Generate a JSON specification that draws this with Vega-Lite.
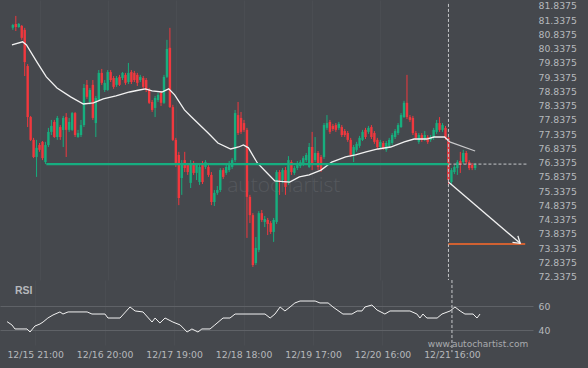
{
  "$schema": "https://vega.github.io/schema/vega-lite/v6.json",
  "background": "#45484d",
  "padding": 0,
  "spacing": 0,
  "bounds": "flush",
  "resolve": {"scale": {"x": "independent", "y": "independent"}},
  "config": {
    "view": {"stroke": null},
    "axis": {"domain": false, "ticks": false, "labelFont": "DejaVu Sans", "labelFontSize": 9.3, "labelColor": "#b6b8bc", "labelOverlap": false}
  },
  "datasets": {
    "candles": [
{"i":0,"o":81.07,"h":81.21,"l":81.00,"c":81.17},
{"i":1,"o":81.21,"h":81.49,"l":80.96,"c":81.10},
{"i":2,"o":81.10,"h":81.24,"l":81.07,"c":81.21},
{"i":3,"o":81.14,"h":81.17,"l":80.65,"c":80.72},
{"i":4,"o":81.00,"h":81.07,"l":79.38,"c":79.87},
{"i":5,"o":79.73,"h":79.80,"l":77.59,"c":77.94},
{"i":6,"o":77.94,"h":77.98,"l":77.10,"c":77.14},
{"i":7,"o":77.14,"h":77.21,"l":76.50,"c":76.54},
{"i":8,"o":76.54,"h":77.14,"l":75.84,"c":76.86},
{"i":9,"o":76.96,"h":77.03,"l":76.72,"c":76.79},
{"i":10,"o":77.07,"h":77.10,"l":76.43,"c":76.50},
{"i":11,"o":76.36,"h":77.07,"l":76.29,"c":76.96},
{"i":12,"o":76.96,"h":77.56,"l":76.89,"c":77.42},
{"i":13,"o":77.42,"h":77.84,"l":77.31,"c":77.63},
{"i":14,"o":77.77,"h":77.84,"l":77.21,"c":77.24},
{"i":15,"o":77.24,"h":77.98,"l":77.14,"c":77.91},
{"i":16,"o":77.59,"h":77.66,"l":77.14,"c":77.24},
{"i":17,"o":77.49,"h":77.98,"l":76.89,"c":77.91},
{"i":18,"o":77.94,"h":78.08,"l":76.54,"c":77.49},
{"i":19,"o":77.49,"h":77.91,"l":77.42,"c":77.77},
{"i":20,"o":77.49,"h":78.12,"l":77.45,"c":78.08},
{"i":21,"o":78.08,"h":78.12,"l":77.24,"c":77.31},
{"i":22,"o":77.24,"h":77.49,"l":77.21,"c":77.38},
{"i":23,"o":77.31,"h":77.84,"l":77.24,"c":77.66},
{"i":24,"o":77.66,"h":79.10,"l":77.59,"c":78.96},
{"i":25,"o":79.07,"h":79.24,"l":78.58,"c":78.65},
{"i":26,"o":78.47,"h":78.96,"l":78.37,"c":78.89},
{"i":27,"o":79.07,"h":79.24,"l":77.84,"c":77.91},
{"i":28,"o":77.73,"h":78.68,"l":77.24,"c":78.61},
{"i":29,"o":78.54,"h":79.59,"l":78.51,"c":79.49},
{"i":30,"o":79.49,"h":79.63,"l":79.07,"c":79.14},
{"i":31,"o":78.89,"h":79.24,"l":78.82,"c":79.14},
{"i":32,"o":78.89,"h":79.59,"l":78.86,"c":79.52},
{"i":33,"o":79.52,"h":79.59,"l":79.17,"c":79.24},
{"i":34,"o":79.31,"h":79.38,"l":78.93,"c":79.00},
{"i":35,"o":79.07,"h":79.38,"l":79.00,"c":79.31},
{"i":36,"o":79.35,"h":79.42,"l":79.03,"c":79.07},
{"i":37,"o":79.31,"h":79.52,"l":79.24,"c":79.49},
{"i":38,"o":79.42,"h":79.49,"l":79.07,"c":79.14},
{"i":39,"o":79.17,"h":79.84,"l":79.10,"c":79.49},
{"i":40,"o":79.52,"h":79.59,"l":79.10,"c":79.17},
{"i":41,"o":79.49,"h":79.56,"l":79.17,"c":79.24},
{"i":42,"o":79.42,"h":79.49,"l":79.03,"c":79.14},
{"i":43,"o":79.24,"h":79.42,"l":79.17,"c":79.35},
{"i":44,"o":79.31,"h":79.38,"l":78.93,"c":79.00},
{"i":45,"o":79.24,"h":79.31,"l":78.82,"c":78.89},
{"i":46,"o":78.89,"h":78.96,"l":78.40,"c":78.44},
{"i":47,"o":78.47,"h":78.54,"l":78.12,"c":78.19},
{"i":48,"o":78.26,"h":78.68,"l":77.94,"c":78.61},
{"i":49,"o":78.54,"h":78.79,"l":78.47,"c":78.72},
{"i":50,"o":78.79,"h":78.86,"l":78.33,"c":78.44},
{"i":51,"o":78.44,"h":79.42,"l":78.40,"c":79.35},
{"i":52,"o":79.35,"h":80.65,"l":79.31,"c":80.33},
{"i":53,"o":80.37,"h":81.07,"l":78.26,"c":78.29},
{"i":54,"o":78.29,"h":78.37,"l":77.10,"c":77.14},
{"i":55,"o":77.14,"h":77.21,"l":76.19,"c":76.33},
{"i":56,"o":76.61,"h":76.72,"l":74.85,"c":75.10},
{"i":57,"o":75.80,"h":76.43,"l":75.21,"c":76.33},
{"i":58,"o":76.43,"h":76.72,"l":76.01,"c":76.15},
{"i":59,"o":76.26,"h":76.33,"l":75.91,"c":76.01},
{"i":60,"o":75.63,"h":76.43,"l":75.45,"c":76.33},
{"i":61,"o":76.33,"h":76.40,"l":75.91,"c":75.98},
{"i":62,"o":75.98,"h":76.33,"l":75.73,"c":76.26},
{"i":63,"o":75.66,"h":76.26,"l":75.56,"c":76.19},
{"i":64,"o":76.33,"h":76.40,"l":75.59,"c":75.66},
{"i":65,"o":76.19,"h":76.43,"l":76.12,"c":76.36},
{"i":66,"o":76.19,"h":76.26,"l":75.84,"c":75.91},
{"i":67,"o":75.91,"h":76.01,"l":74.85,"c":74.96},
{"i":68,"o":74.96,"h":75.38,"l":74.82,"c":75.28},
{"i":69,"o":75.28,"h":75.52,"l":75.21,"c":75.38},
{"i":70,"o":75.38,"h":76.15,"l":75.31,"c":76.08},
{"i":71,"o":76.08,"h":76.15,"l":75.77,"c":75.84},
{"i":72,"o":75.98,"h":76.26,"l":75.91,"c":76.19},
{"i":73,"o":76.08,"h":76.40,"l":76.01,"c":76.33},
{"i":74,"o":76.19,"h":76.50,"l":76.12,"c":76.43},
{"i":75,"o":76.43,"h":78.19,"l":76.36,"c":78.08},
{"i":76,"o":78.01,"h":78.47,"l":77.31,"c":77.38},
{"i":77,"o":77.91,"h":78.12,"l":77.35,"c":77.42},
{"i":78,"o":77.73,"h":77.84,"l":77.42,"c":77.49},
{"i":79,"o":77.49,"h":77.56,"l":73.70,"c":75.14},
{"i":80,"o":75.14,"h":75.21,"l":74.22,"c":74.50},
{"i":81,"o":74.50,"h":74.57,"l":72.68,"c":72.75},
{"i":82,"o":72.82,"h":73.73,"l":72.75,"c":73.35},
{"i":83,"o":73.28,"h":74.64,"l":73.20,"c":74.57},
{"i":84,"o":74.57,"h":74.68,"l":74.26,"c":74.33},
{"i":85,"o":74.26,"h":74.47,"l":74.08,"c":74.36},
{"i":86,"o":74.33,"h":74.40,"l":73.80,"c":74.19},
{"i":87,"o":74.22,"h":74.29,"l":73.84,"c":73.91},
{"i":88,"o":73.91,"h":74.40,"l":73.56,"c":74.33},
{"i":89,"o":74.26,"h":76.08,"l":74.19,"c":76.01},
{"i":90,"o":76.01,"h":76.08,"l":75.21,"c":75.73},
{"i":91,"o":75.73,"h":76.15,"l":75.63,"c":76.08},
{"i":92,"o":76.08,"h":76.19,"l":75.21,"c":75.49},
{"i":93,"o":75.66,"h":76.57,"l":75.56,"c":76.43},
{"i":94,"o":76.36,"h":76.43,"l":75.91,"c":76.01},
{"i":95,"o":75.98,"h":76.22,"l":75.91,"c":76.15},
{"i":96,"o":76.15,"h":76.40,"l":76.08,"c":76.33},
{"i":97,"o":76.22,"h":76.43,"l":76.15,"c":76.36},
{"i":98,"o":76.33,"h":76.57,"l":76.22,"c":76.50},
{"i":99,"o":76.43,"h":76.68,"l":76.36,"c":76.61},
{"i":100,"o":76.19,"h":77.03,"l":76.15,"c":76.89},
{"i":101,"o":76.89,"h":77.42,"l":76.08,"c":76.33},
{"i":102,"o":76.43,"h":77.24,"l":76.36,"c":76.68},
{"i":103,"o":76.68,"h":76.75,"l":76.08,"c":76.19},
{"i":104,"o":76.54,"h":76.61,"l":76.01,"c":76.08},
{"i":105,"o":76.54,"h":77.73,"l":76.47,"c":77.66},
{"i":106,"o":77.56,"h":78.01,"l":77.49,"c":77.73},
{"i":107,"o":77.77,"h":77.84,"l":77.35,"c":77.42},
{"i":108,"o":77.63,"h":77.70,"l":77.45,"c":77.52},
{"i":109,"o":77.66,"h":77.73,"l":77.42,"c":77.49},
{"i":110,"o":77.56,"h":77.77,"l":77.49,"c":77.70},
{"i":111,"o":77.59,"h":77.66,"l":77.24,"c":77.31},
{"i":112,"o":77.45,"h":77.52,"l":77.24,"c":77.31},
{"i":113,"o":77.38,"h":77.45,"l":77.07,"c":77.14},
{"i":114,"o":77.14,"h":77.21,"l":76.54,"c":76.61},
{"i":115,"o":76.61,"h":76.96,"l":76.36,"c":76.89},
{"i":116,"o":76.79,"h":77.07,"l":76.72,"c":77.00},
{"i":117,"o":76.93,"h":77.28,"l":76.86,"c":77.21},
{"i":118,"o":77.14,"h":77.49,"l":77.10,"c":77.42},
{"i":119,"o":77.49,"h":77.56,"l":77.17,"c":77.24},
{"i":120,"o":77.42,"h":77.63,"l":77.35,"c":77.56},
{"i":121,"o":77.59,"h":77.66,"l":77.17,"c":77.24},
{"i":122,"o":77.38,"h":77.45,"l":77.00,"c":77.07},
{"i":123,"o":77.14,"h":77.21,"l":76.82,"c":76.89},
{"i":124,"o":76.89,"h":77.14,"l":76.82,"c":77.07},
{"i":125,"o":77.03,"h":77.10,"l":76.79,"c":76.86},
{"i":126,"o":76.79,"h":77.10,"l":76.72,"c":77.03},
{"i":127,"o":76.93,"h":77.21,"l":76.86,"c":77.14},
{"i":128,"o":77.03,"h":77.38,"l":76.96,"c":77.31},
{"i":129,"o":77.24,"h":77.52,"l":77.17,"c":77.45},
{"i":130,"o":77.38,"h":77.73,"l":77.31,"c":77.66},
{"i":131,"o":77.59,"h":78.08,"l":77.56,"c":78.01},
{"i":132,"o":77.94,"h":78.51,"l":77.91,"c":78.44},
{"i":133,"o":78.44,"h":79.42,"l":77.87,"c":77.94},
{"i":134,"o":77.94,"h":78.01,"l":77.77,"c":77.84},
{"i":135,"o":77.91,"h":77.98,"l":77.31,"c":77.38},
{"i":136,"o":77.38,"h":77.45,"l":77.14,"c":77.21},
{"i":137,"o":77.07,"h":77.38,"l":77.00,"c":77.31},
{"i":138,"o":77.31,"h":77.38,"l":77.07,"c":77.14},
{"i":139,"o":77.17,"h":77.45,"l":77.10,"c":77.31},
{"i":140,"o":77.24,"h":77.31,"l":77.00,"c":77.07},
{"i":141,"o":77.14,"h":77.31,"l":77.07,"c":77.24},
{"i":142,"o":77.24,"h":77.56,"l":77.14,"c":77.49},
{"i":143,"o":77.42,"h":77.84,"l":77.35,"c":77.73},
{"i":144,"o":77.73,"h":77.94,"l":77.42,"c":77.49},
{"i":145,"o":77.49,"h":77.73,"l":77.42,"c":77.66},
{"i":146,"o":77.56,"h":77.63,"l":77.14,"c":77.21},
{"i":147,"o":77.21,"h":77.28,"l":75.56,"c":75.73},
{"i":148,"o":75.66,"h":76.15,"l":75.59,"c":76.08},
{"i":149,"o":76.01,"h":76.26,"l":75.94,"c":76.19},
{"i":150,"o":76.15,"h":76.43,"l":75.91,"c":76.36},
{"i":151,"o":76.40,"h":76.72,"l":75.98,"c":76.26},
{"i":152,"o":76.36,"h":76.79,"l":76.29,"c":76.68},
{"i":153,"o":76.68,"h":76.75,"l":76.29,"c":76.36},
{"i":154,"o":76.36,"h":76.43,"l":76.08,"c":76.15},
{"i":155,"o":76.26,"h":76.33,"l":76.08,"c":76.15},
{"i":156,"o":76.15,"h":76.33,"l":76.08,"c":76.26}
    ],
    "ma": [
{"i":-0.3,"p":80.47},{"i":3.3,"p":80.58},{"i":4.6,"p":80.47},{"i":8.3,"p":79.84},{"i":11.3,"p":79.35},{"i":14.9,"p":78.96},{"i":19.5,"p":78.65},{"i":23.8,"p":78.40},{"i":27.2,"p":78.44},{"i":30.5,"p":78.58},{"i":34.8,"p":78.68},{"i":39.4,"p":78.82},{"i":42.7,"p":78.89},{"i":44.7,"p":78.93},{"i":47.0,"p":78.86},{"i":50.3,"p":78.82},{"i":52.6,"p":78.93},{"i":54.6,"p":78.72},{"i":57.9,"p":78.19},{"i":60.3,"p":77.94},{"i":65.9,"p":77.38},{"i":69.2,"p":77.03},{"i":73.5,"p":76.82},{"i":76.2,"p":76.89},{"i":77.8,"p":76.96},{"i":79.5,"p":76.86},{"i":82.5,"p":76.33},{"i":85.8,"p":75.98},{"i":88.4,"p":75.70},{"i":93.4,"p":75.66},{"i":96.7,"p":75.84},{"i":100.0,"p":75.91},{"i":104.0,"p":76.08},{"i":107.6,"p":76.36},{"i":112.3,"p":76.54},{"i":115.6,"p":76.61},{"i":119.2,"p":76.72},{"i":123.2,"p":76.82},{"i":127.5,"p":76.89},{"i":132.1,"p":77.07},{"i":135.4,"p":77.17},{"i":139.7,"p":77.17},{"i":142.1,"p":77.24},{"i":145.7,"p":77.24},{"i":147.4,"p":77.07}
    ],
    "proj": [{"i":147.4,"p":77.07},{"i":156.0,"p":76.75}],
    "rsi": [
{"i":-0.3,"v":47.1},{"i":1.3,"v":44.4},{"i":2.3,"v":41.1},{"i":6.3,"v":41.1},{"i":7.3,"v":38.6},{"i":8.9,"v":43.5},{"i":10.6,"v":45.2},{"i":11.6,"v":46.8},{"i":13.2,"v":50.1},{"i":14.9,"v":52.6},{"i":17.2,"v":55.1},{"i":18.2,"v":53.4},{"i":19.9,"v":55.1},{"i":26.2,"v":55.1},{"i":27.8,"v":53.4},{"i":32.1,"v":53.4},{"i":33.1,"v":50.1},{"i":37.1,"v":50.1},{"i":40.4,"v":59.2},{"i":42.1,"v":55.9},{"i":44.7,"v":55.1},{"i":47.7,"v":46.8},{"i":48.7,"v":50.1},{"i":50.3,"v":46.0},{"i":52.0,"v":50.1},{"i":54.6,"v":46.8},{"i":57.0,"v":44.4},{"i":59.3,"v":38.6},{"i":60.9,"v":41.1},{"i":62.9,"v":38.6},{"i":64.2,"v":41.1},{"i":66.9,"v":41.1},{"i":68.5,"v":44.4},{"i":71.2,"v":50.1},{"i":73.5,"v":50.1},{"i":75.2,"v":53.4},{"i":85.1,"v":53.4},{"i":86.8,"v":50.1},{"i":88.4,"v":53.4},{"i":90.1,"v":59.2},{"i":91.7,"v":55.9},{"i":93.4,"v":59.2},{"i":95.0,"v":62.5},{"i":96.7,"v":64.1},{"i":101.7,"v":64.1},{"i":103.3,"v":62.5},{"i":106.0,"v":62.5},{"i":107.6,"v":59.2},{"i":110.9,"v":53.4},{"i":113.9,"v":53.4},{"i":115.6,"v":55.9},{"i":117.2,"v":55.9},{"i":118.2,"v":59.2},{"i":120.5,"v":60.8},{"i":122.2,"v":56.7},{"i":124.8,"v":53.4},{"i":126.5,"v":55.9},{"i":133.1,"v":55.9},{"i":135.4,"v":53.4},{"i":136.4,"v":50.1},{"i":137.4,"v":53.4},{"i":138.7,"v":50.1},{"i":142.1,"v":50.1},{"i":143.7,"v":53.4},{"i":146.4,"v":55.9},{"i":148.0,"v":59.2},{"i":149.7,"v":55.9},{"i":151.3,"v":53.4},{"i":154.0,"v":53.4},{"i":155.3,"v":50.1},{"i":156.3,"v":53.4}
    ],
    "support": [{"i":11.3,"i2":147,"p":76.29}],
    "current": [{"i":147,"i2":173.84,"p":76.29}],
    "target": [{"i":147,"i2":172.9,"p":73.49}],
    "arrow": [{"i":147,"p":75.66},{"i":171.2,"p":73.51}],
    "arrowhead": [{"i":171.2,"p":73.51}],
    "vline": [{"i":147,"p":81.91,"p2":72.223}],
    "vline2": [{"i":147,"v":81.4,"v2":22}],
    "mark": [{"i":91.4,"p":75.52,"t":"autochartist"}],
    "labels": [{"i":2.3,"v":72.6,"t":"RSI"}],
    "url": [{"i":172.3,"v":28.5,"t":"www.autochartist.com"}]
  },
  "vconcat": [
    {
      "width": 533,
      "height": 280,
      "encoding": {
        "x": {"field": "i", "type": "quantitative", "title": null,
          "scale": {"domain": [-2.649, 173.84], "nice": false, "zero": false},
          "axis": {"values": [9, 32, 55, 78, 101, 124, 147], "labels": false, "grid": true, "gridColor": "#4a4d52", "tickCount": 20, "minExtent": 0, "maxExtent": 0}}
      },
      "layer": [
        {
          "data": {"name": "mark"},
          "mark": {"type": "text", "fontSize": 21, "font": "Open Sans", "fontWeight": 300, "color": "#55585d", "baseline": "middle", "align": "center"},
          "encoding": {
            "y": {"field": "p", "type": "quantitative", "title": null, "scale": {"domain": [72.223, 82.048], "nice": false, "zero": false}},
            "text": {"field": "t"}
          }
        },
        {
          "data": {"name": "candles"},
          "mark": {"type": "rule", "strokeWidth": 1},
          "encoding": {
            "y": {"field": "l", "type": "quantitative", "title": null,
              "scale": {"domain": [72.223, 82.048], "nice": false, "zero": false},
              "axis": {"orient": "right", "values": [72.3375, 72.8375, 73.3375, 73.8375, 74.3375, 74.8375, 75.3375, 75.8375, 76.3375, 76.8375, 77.3375, 77.8375, 78.3375, 78.8375, 79.3375, 79.8375, 80.3375, 80.8375, 81.3375, 81.8375], "tickCount": 40, "format": ".4f", "grid": false, "labelOverlap": false, "labelSeparation": 0, "labelBound": false, "labelPadding": 5, "minExtent": 55, "maxExtent": 55}},
            "y2": {"field": "h"},
            "color": {"condition": {"test": "datum.c >= datum.o", "value": "#17ae7e"}, "value": "#f0383e"}
          }
        },
        {
          "data": {"name": "candles"},
          "mark": {"type": "bar", "size": 2.4},
          "encoding": {
            "y": {"field": "o", "type": "quantitative", "title": null, "scale": {"domain": [72.223, 82.048], "nice": false, "zero": false}},
            "y2": {"field": "c"},
            "color": {"condition": {"test": "datum.c >= datum.o", "value": "#17ae7e"}, "value": "#f0383e"}
          }
        },
        {
          "data": {"name": "ma"},
          "mark": {"type": "line", "color": "#f2f2f2", "strokeWidth": 1.3},
          "encoding": {
            "y": {"field": "p", "type": "quantitative", "title": null, "scale": {"domain": [72.223, 82.048], "nice": false, "zero": false}}
          }
        },
        {
          "data": {"name": "proj"},
          "mark": {"type": "line", "color": "#c9cacc", "strokeWidth": 1.2},
          "encoding": {
            "y": {"field": "p", "type": "quantitative", "title": null, "scale": {"domain": [72.223, 82.048], "nice": false, "zero": false}}
          }
        },
        {
          "data": {"name": "vline"},
          "mark": {"type": "rule", "color": "#c4c6c9", "strokeWidth": 1, "strokeDash": [3, 2]},
          "encoding": {
            "y": {"field": "p", "type": "quantitative", "title": null, "scale": {"domain": [72.223, 82.048], "nice": false, "zero": false}},
            "y2": {"field": "p2"}
          }
        },
        {
          "data": {"name": "current"},
          "mark": {"type": "rule", "color": "#c4c6c9", "strokeWidth": 1, "strokeDash": [3, 2]},
          "encoding": {
            "x2": {"field": "i2"},
            "y": {"field": "p", "type": "quantitative", "title": null, "scale": {"domain": [72.223, 82.048], "nice": false, "zero": false}}
          }
        },
        {
          "data": {"name": "support"},
          "mark": {"type": "rule", "color": "#16ad80", "strokeWidth": 2.2},
          "encoding": {
            "x2": {"field": "i2"},
            "y": {"field": "p", "type": "quantitative", "title": null, "scale": {"domain": [72.223, 82.048], "nice": false, "zero": false}}
          }
        },
        {
          "data": {"name": "target"},
          "mark": {"type": "rule", "color": "#ff6a2a", "strokeWidth": 1.5},
          "encoding": {
            "x2": {"field": "i2"},
            "y": {"field": "p", "type": "quantitative", "title": null, "scale": {"domain": [72.223, 82.048], "nice": false, "zero": false}}
          }
        },
        {
          "data": {"name": "arrow"},
          "mark": {"type": "line", "color": "#f2f2f2", "strokeWidth": 1.3},
          "encoding": {
            "y": {"field": "p", "type": "quantitative", "title": null, "scale": {"domain": [72.223, 82.048], "nice": false, "zero": false}}
          }
        },
        {
          "data": {"name": "arrowhead"},
          "mark": {"type": "point", "shape": "M-1,-0.65L0,0L-1,0.65", "filled": false, "stroke": "#f2f2f2", "strokeWidth": 1.3, "size": 170, "angle": 40, "opacity": 1},
          "encoding": {
            "y": {"field": "p", "type": "quantitative", "title": null, "scale": {"domain": [72.223, 82.048], "nice": false, "zero": false}}
          }
        }
      ]
    },
    {
      "width": 533,
      "height": 65,
      "encoding": {
        "x": {"field": "i", "type": "quantitative", "title": null,
          "scale": {"domain": [-2.649, 173.84], "nice": false, "zero": false},
          "axis": {"values": [9, 32, 55, 78, 101, 124, 147], "tickCount": 20, "labelExpr": "datum.value==9?'12/15 21:00':datum.value==32?'12/16 20:00':datum.value==55?'12/17 19:00':datum.value==78?'12/18 18:00':datum.value==101?'12/19 17:00':datum.value==124?'12/20 16:00':'12/21 16:00'", "labelPadding": 5, "labelFlush": false, "grid": true, "gridColor": "#4a4d52", "minExtent": 23, "maxExtent": 23}}
      },
      "layer": [
        {
          "data": {"name": "rsi"},
          "mark": {"type": "line", "color": "#f2f2f2", "strokeWidth": 1},
          "encoding": {
            "y": {"field": "v", "type": "quantitative", "title": null,
              "scale": {"domain": [27.9, 81.4], "nice": false, "zero": false},
              "axis": {"orient": "right", "values": [40, 60], "grid": true, "gridColor": "#5f6267", "labelPadding": 5, "minExtent": 55, "maxExtent": 55}}
          }
        },
        {
          "data": {"name": "vline2"},
          "mark": {"type": "rule", "color": "#c4c6c9", "strokeWidth": 1, "strokeDash": [3, 2]},
          "encoding": {
            "y": {"field": "v", "type": "quantitative", "title": null, "scale": {"domain": [27.9, 81.4], "nice": false, "zero": false}},
            "y2": {"field": "v2"}
          }
        },
        {
          "data": {"name": "labels"},
          "mark": {"type": "text", "font": "Liberation Sans", "fontWeight": "bold", "fontSize": 10.5, "color": "#b6b8bc", "align": "left", "baseline": "middle"},
          "encoding": {
            "y": {"field": "v", "type": "quantitative", "title": null, "scale": {"domain": [27.9, 81.4], "nice": false, "zero": false}},
            "text": {"field": "t"}
          }
        },
        {
          "data": {"name": "url"},
          "mark": {"type": "text", "font": "DejaVu Sans", "fontSize": 9, "color": "#a9abae", "align": "right", "baseline": "middle"},
          "encoding": {
            "y": {"field": "v", "type": "quantitative", "title": null, "scale": {"domain": [27.9, 81.4], "nice": false, "zero": false}},
            "text": {"field": "t"}
          }
        }
      ]
    }
  ]
}
